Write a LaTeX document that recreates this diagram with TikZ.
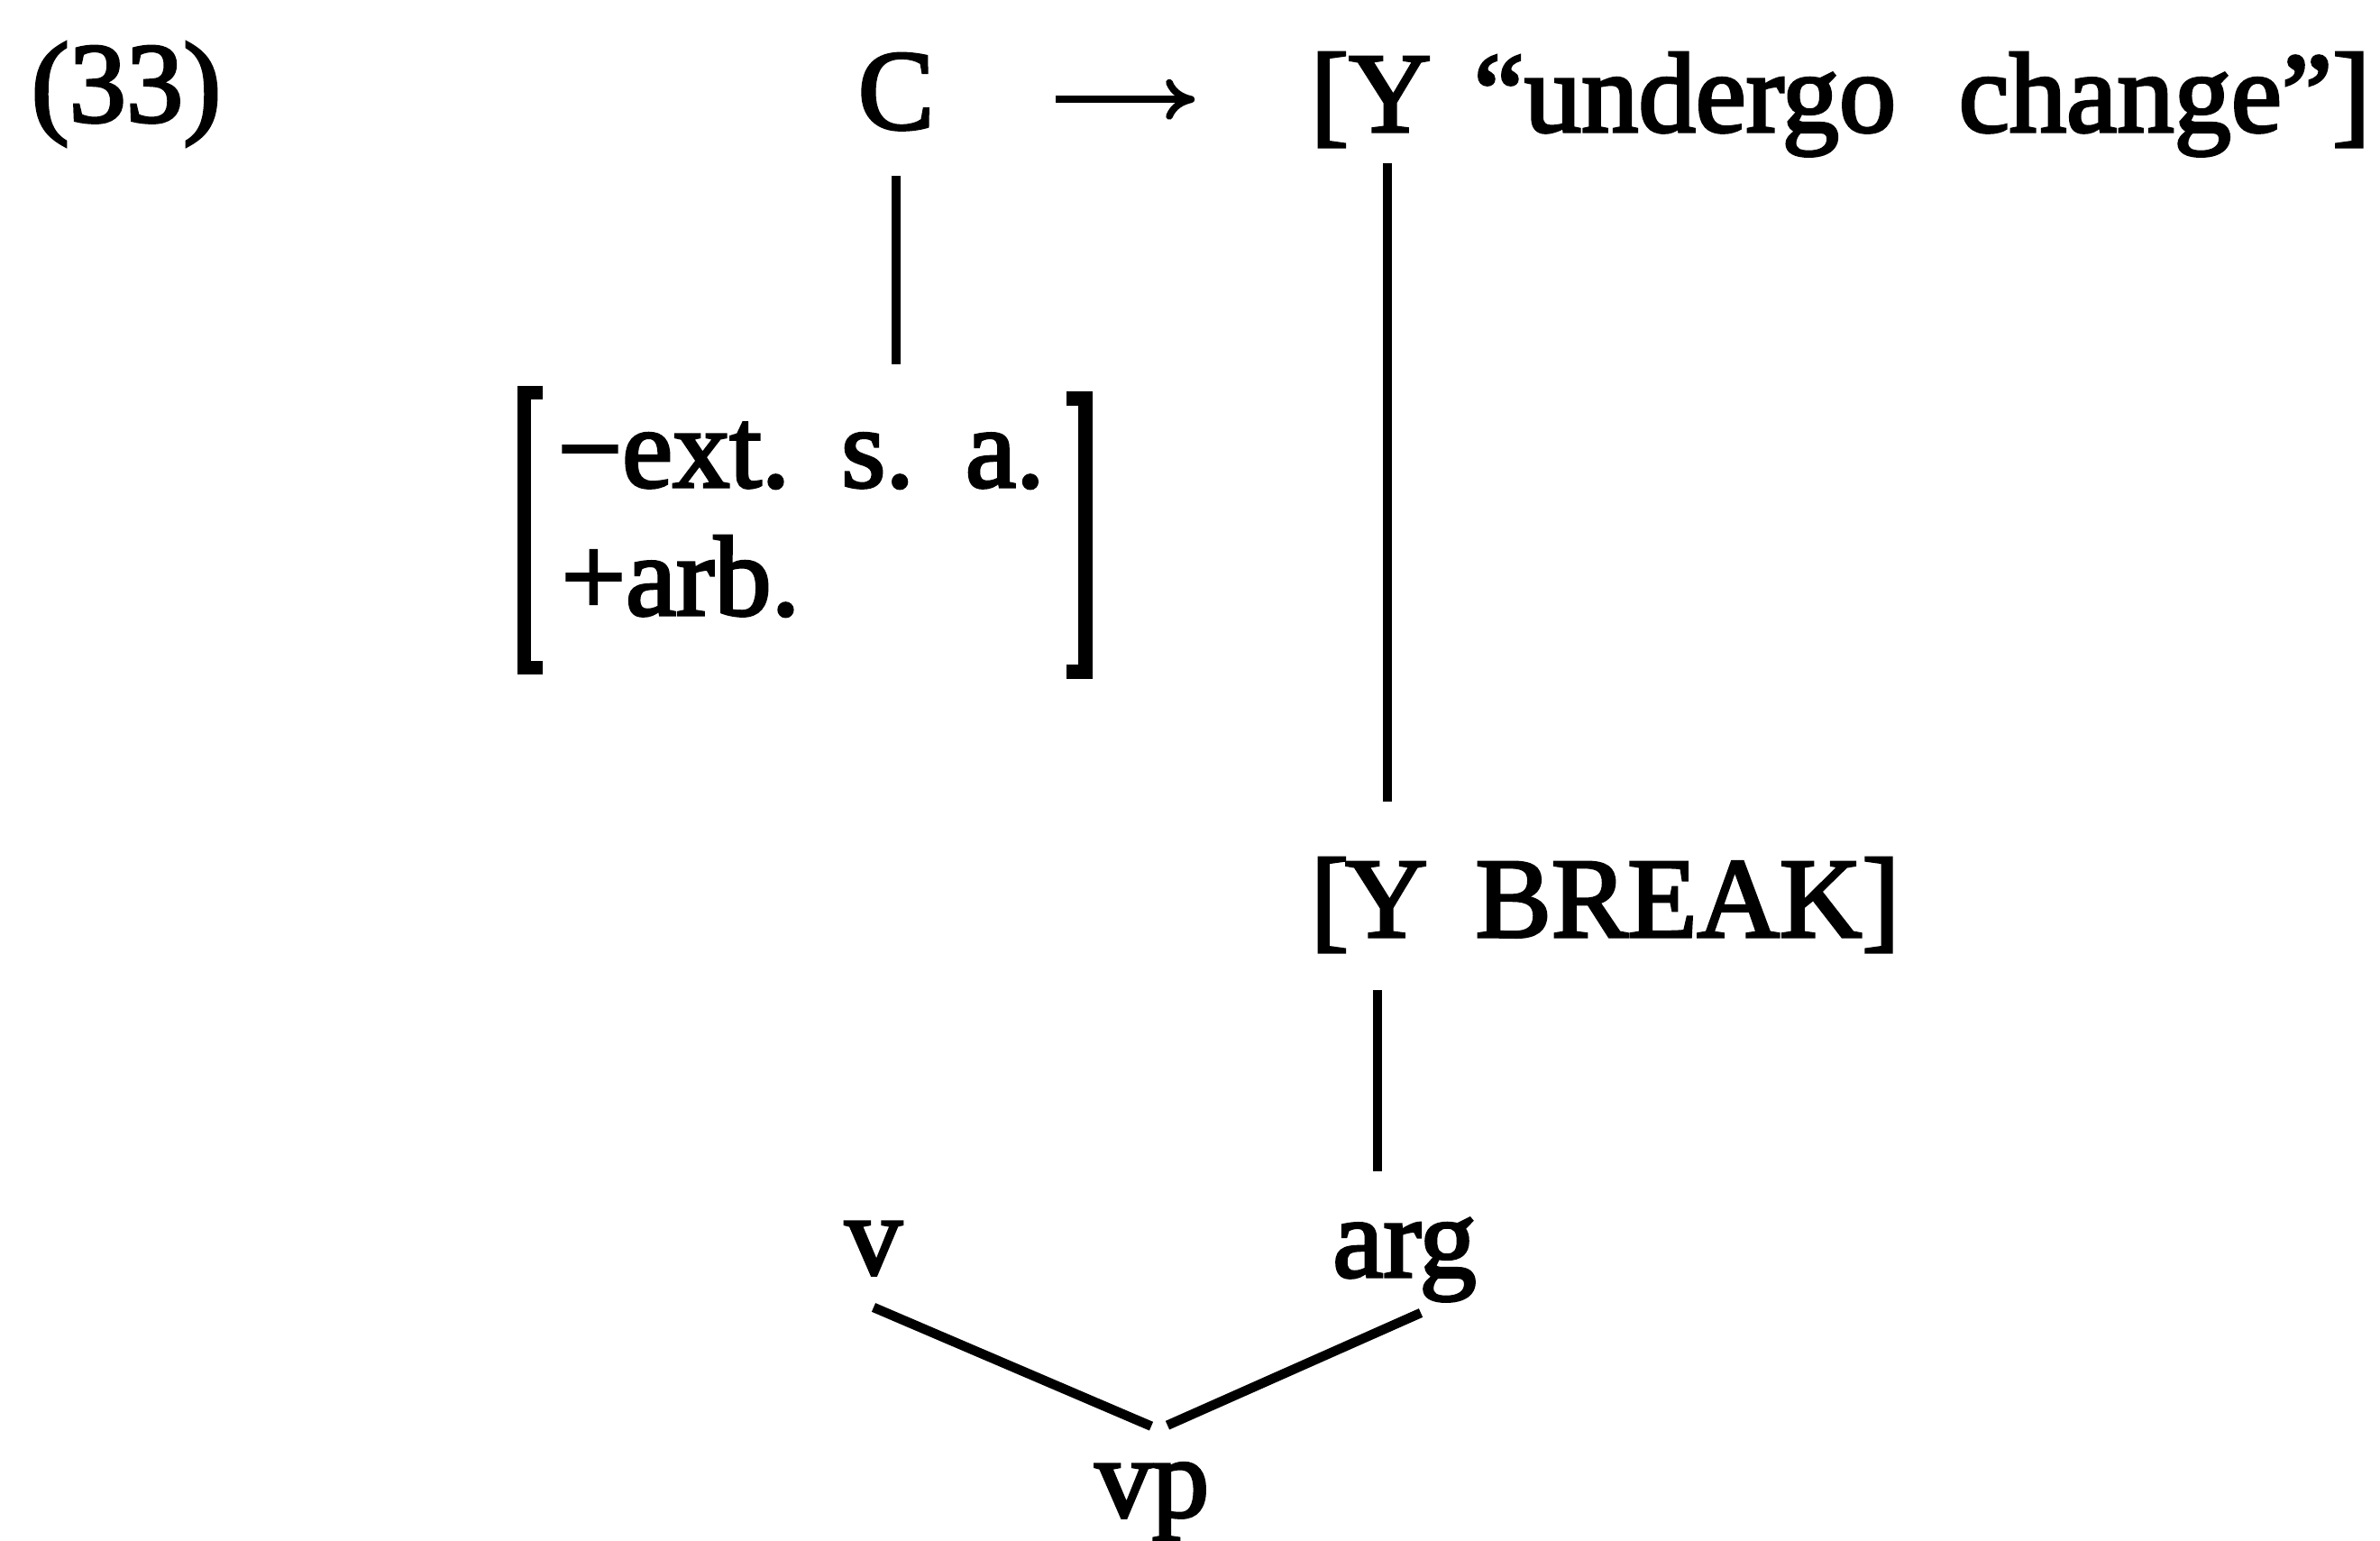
\documentclass[tikz,border=0pt]{standalone}
\usepackage{fontspec}
\setmainfont{Liberation Serif}
\newfontfamily\heavy{Liberation Serif}[FakeBold=2.6]
\usetikzlibrary{arrows.meta}

\tikzset{
  lbl/.style={inner sep=0pt, font=\heavy\fontsize{36}{40}\selectfont},
  tie/.style={draw, line width=3pt},
  brk/.style={draw, line width=4.3pt, line cap=butt, line join=miter},
  rulearrow/.style={draw, line width=2.2pt, -{To[length=0.32cm,width=0.45cm]}}
}

\begin{document}
\begin{tikzpicture}
      \useasboundingbox (0,0) rectangle (26.40,-17.09);
      \def \Labels{
        ex/1.40/-1.35/{(33)},
        C/9.94/-1.43/C,
        lbA/14.75/-1.46/{[},
        YA/15.42/-1.46/Y,
        gloss/21.32/-1.46/{“undergo\hspace{.55em}change”]},
        lbB/14.75/-10.39/{[},
        YB/15.38/-10.39/Y,
        brk/18.72/-10.39/{BREAK]},
        v/9.69/-14.13/v,
        arg/15.58/-14.16/arg,
        vp/12.78/-16.82/vp}
      \foreach \id / \x / \y / \t in \Labels{
        \node[lbl, anchor=base] (\id) at (\x, \y) {\t};
      }
      % feature matrix under C
      \node[lbl, anchor=base west] (ext) at (6.18, -5.40) {−ext.\hspace{.45em}s.\hspace{.45em}a.};
      \node[lbl, anchor=base west] (arb) at (6.22, -6.82) {+arb.};
      \coordinate (fnw) at (5.815, -4.355);
      \coordinate (fsw) at (5.815, -7.405);
      \coordinate (fne) at (12.04, -4.42);
      \coordinate (fse) at (12.04, -7.45);
      \path[brk] ([xshift=0.205cm]fnw) -- (fnw) -- (fsw) -- ++(0.205,0);
      \path[brk] ([xshift=-0.21cm]fne) -- (fne) -- (fse) -- ++(-0.21,0);
      % connectors
      \path[rulearrow, shorten <=1.34cm, shorten >=1.28cm]
        ([yshift=-0.085cm]C.east) -- ([yshift=-0.085cm]C.east -| lbA.west);
      \path[tie, shorten <=0.50cm, shorten >=0.31cm] (C.south) -- (C.south |- fnw);
      \path[tie, shorten <=0.34cm, shorten >=0.66cm] ([xshift=-0.03cm]YA.south) -- ([xshift=-0.03cm]YA.south |- YB.north);
      \path[tie, shorten <=0.58cm, shorten >=0.51cm] ([xshift=-0.1cm]YB.south) -- ([xshift=-0.1cm]YB.south |- arg.north);
      \path[tie] ([yshift=-0.35cm]v.south) -- ([xshift=-0.01cm, yshift=0.40cm]vp.north);
      \path[tie] ([xshift=0.18cm, yshift=-0.12cm]arg.south) -- ([xshift=0.17cm, yshift=0.41cm]vp.north);
\end{tikzpicture}
\end{document}
